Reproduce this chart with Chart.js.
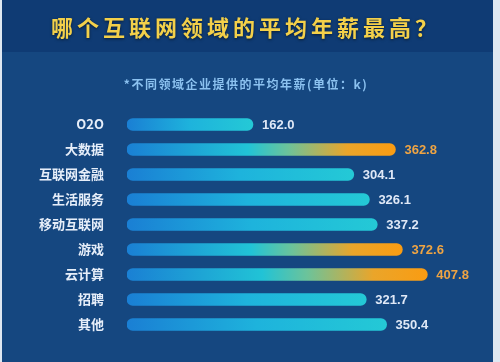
<!DOCTYPE html>
<html>
<head>
<meta charset="utf-8">
<script src="https://cdn.jsdelivr.net/npm/chart.js@4/dist/chart.umd.min.js"></script>
<style>
  html, body { margin: 0; padding: 0; background: #154780; }
  #wrap { width: 500px; height: 362px; }
</style>
</head>
<body>
<div id="wrap"><canvas id="chart" width="500" height="362"></canvas></div>
<script>
// data (average yearly salary, unit: k)
const categories = ['O2O', '大数据', '互联网金融', '生活服务', '移动互联网', '游戏', '云计算', '招聘', '其他'];
const salaries = [162.0, 362.8, 304.1, 326.1, 337.2, 372.6, 407.8, 321.7, 350.4];
const titleText = '哪个互联网领域的平均年薪最高？';
const subtitleText = '*不同领域企业提供的平均年薪(单位：k)';

// top three values get the orange treatment
const topThree = [...salaries].sort((a, b) => b - a).slice(0, 3);
const isHot = salaries.map(v => topThree.includes(v));

const FONT = '"Noto Sans CJK SC", "Noto Sans", sans-serif';
const AXIS_MIN = -15.5;

// background panels + heading text
const backdrop = {
  id: 'backdrop',
  beforeDraw(chart) {
    const { ctx, width, height } = chart;
    ctx.save();
    ctx.fillStyle = '#154780';
    ctx.fillRect(0, 0, width, height);
    ctx.fillStyle = '#0f3b74';
    ctx.fillRect(0, 0, width, 52);
    // thin light frame left/right like the source image
    ctx.fillStyle = '#dfe8f2';
    ctx.fillRect(0, 0, 2, height);
    ctx.fillRect(493, 0, 7, height);

    ctx.textAlign = 'center';
    ctx.textBaseline = 'middle';
    ctx.letterSpacing = '4px';
    ctx.font = 'bold 22px ' + FONT;
    ctx.shadowColor = 'rgba(0,0,0,0.55)';
    ctx.shadowBlur = 3;
    ctx.shadowOffsetY = 1;
    ctx.fillStyle = '#f3d04a';
    ctx.fillText(titleText, 246, 28);

    ctx.shadowColor = 'transparent';
    ctx.letterSpacing = '1.5px';
    ctx.font = 'bold 12px ' + FONT;
    ctx.fillStyle = '#8cc2f0';
    ctx.fillText(subtitleText, 246, 84);
    ctx.restore();
  }
};

// numbers at the end of each bar
const valueLabels = {
  id: 'valueLabels',
  afterDatasetsDraw(chart) {
    const { ctx } = chart;
    const meta = chart.getDatasetMeta(0);
    ctx.save();
    ctx.font = 'bold 13px "Liberation Sans", Arial, sans-serif';
    ctx.textAlign = 'left';
    ctx.textBaseline = 'middle';
    meta.data.forEach((bar, i) => {
      ctx.fillStyle = isHot[i] ? '#eea443' : '#dfe8f6';
      ctx.fillText(salaries[i].toFixed(1), bar.x + 9, bar.y + 1);
    });
    ctx.restore();
  }
};

function barFill(context) {
  const chart = context.chart;
  const area = chart.chartArea;
  if (!area) return '#22b8d8';
  const i = context.dataIndex;
  const end = chart.scales.x.getPixelForValue(salaries[i]);
  const g = chart.ctx.createLinearGradient(area.left, 0, end, 0);
  if (isHot[i]) {
    g.addColorStop(0, '#1a80d4');
    g.addColorStop(0.45, '#21c3d6');
    g.addColorStop(0.6, '#6cc39a');
    g.addColorStop(0.82, '#eaa52a');
    g.addColorStop(1, '#fa9c12');
  } else {
    g.addColorStop(0, '#1a7fd4');
    g.addColorStop(0.5, '#1eb3dc');
    g.addColorStop(1, '#24c9d6');
  }
  return g;
}

let chart;
try {
  chart = new Chart(document.getElementById('chart'), {
    type: 'bar',
    data: {
      labels: categories,
      datasets: [{
        data: salaries,
        base: AXIS_MIN,
        backgroundColor: barFill,
        barThickness: 12,
        borderRadius: 6,
        borderSkipped: false
      }]
    },
    options: {
      indexAxis: 'y',
      responsive: false,
      animation: false,
      layout: { padding: { top: 112, bottom: 25, left: 0, right: 20 } },
      plugins: {
        legend: { display: false },
        tooltip: { enabled: false }
      },
      scales: {
        x: {
          display: false,
          min: AXIS_MIN,
          max: 482
        },
        y: {
          afterFit(scale) { scale.width = 127; },
          grid: { display: false },
          border: { display: false },
          ticks: {
            padding: 15,
            color: '#e6eef9',
            font: { family: FONT, size: 13, weight: 'bold' }
          }
        }
      }
    },
    plugins: [backdrop, valueLabels]
  });
} catch (error) {
  console.error('Error initializing the chart:', error);
}
</script>
</body>
</html>
